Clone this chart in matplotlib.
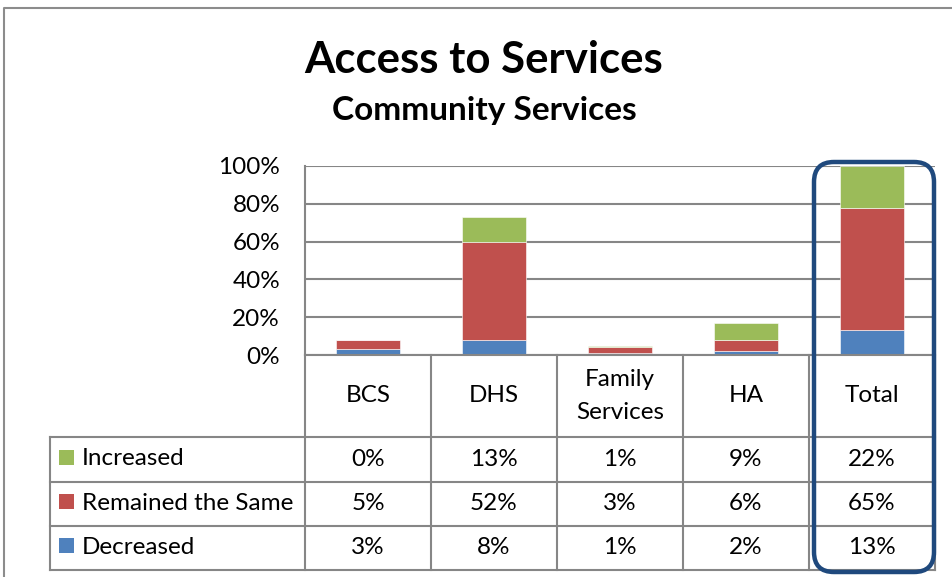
import matplotlib
matplotlib.use("Agg")
import matplotlib.pyplot as plt
from matplotlib.patches import FancyBboxPatch, Rectangle
from matplotlib.lines import Line2D
import numpy as np

plt.rcParams["font.family"] = ["Lato", "DejaVu Sans"]

categories = ["BCS", "DHS", "Family\nServices", "HA", "Total"]
series_names = ["Increased", "Remained the Same", "Decreased"]
decreased = [3, 8, 1, 2, 13]
remained = [5, 52, 3, 6, 65]
increased = [0, 13, 1, 9, 22]
yticks = [0, 20, 40, 60, 80, 100]

COL_INC = "#9BBB59"
COL_REM = "#C0504D"
COL_DEC = "#4F81BD"
GRID = "#868686"
EDGE_BLUE = "#1F497D"
FS = 17.5

W, H = 952, 577
fig = plt.figure(figsize=(W / 100, H / 100), dpi=100)


def fx(px):
    return px / W


def fy(py):
    return 1 - py / H


# plot area in pixel positions of the reference
left, right, top, base = 305, 935, 166, 355
ax = fig.add_axes([fx(left), fy(base), fx(right) - fx(left), (base - top) / H])
x = np.arange(len(categories))
dec = np.array(decreased) / 100
rem = np.array(remained) / 100
inc = np.array(increased) / 100
bw = 0.51
ax.bar(x, dec, bw, color=COL_DEC, edgecolor="white", linewidth=0.4, zorder=3)
ax.bar(x, rem, bw, bottom=dec, color=COL_REM, edgecolor="white", linewidth=0.4, zorder=3)
ax.bar(x, inc, bw, bottom=dec + rem, color=COL_INC, edgecolor="white", linewidth=0.4, zorder=3)

ax.set_xlim(-0.5, len(categories) - 0.5)
ax.set_ylim(0, 1)
ax.set_yticks([v / 100 for v in yticks])
ax.set_yticklabels([f"{v}%" for v in yticks], fontsize=FS)
ax.tick_params(axis="y", length=0, pad=18)
ax.set_xticks([])
ax.yaxis.grid(True, color=GRID, linewidth=1.5, zorder=0)
for s in ["top", "right", "bottom"]:
    ax.spines[s].set_visible(False)
ax.spines["left"].set_color(GRID)
ax.spines["left"].set_linewidth(1.5)

# titles
fig.text(fx(484), fy(60), "Access to Services", ha="center", va="center",
         fontsize=31.5, fontweight="bold")
fig.text(fx(484), fy(111), "Community Services", ha="center", va="center",
         fontsize=24, fontweight="bold")

# data table below the axis
cell_w = (right - left) / len(categories)
rows_y = [355, 437, 482, 526, 570]
tab_left = 50
lk = dict(color=GRID, linewidth=1.5)
fig.add_artist(Line2D([fx(left), fx(right)], [fy(355)] * 2, **lk))
for yy in rows_y[1:]:
    fig.add_artist(Line2D([fx(tab_left), fx(right)], [fy(yy)] * 2, **lk))
fig.add_artist(Line2D([fx(tab_left)] * 2, [fy(437), fy(570)], **lk))
for i in range(len(categories) + 1):
    xx = left + i * cell_w
    fig.add_artist(Line2D([fx(xx)] * 2, [fy(355), fy(570)], **lk))

for i, cat in enumerate(categories):
    cx = left + (i + 0.5) * cell_w
    fig.text(fx(cx), fy(396), cat, ha="center", va="center", fontsize=FS,
             linespacing=1.65)

table_rows = [(series_names[0], increased, COL_INC),
              (series_names[1], remained, COL_REM),
              (series_names[2], decreased, COL_DEC)]
for r, (name, vals, col) in enumerate(table_rows):
    cy = (rows_y[r + 1] + rows_y[r + 2]) / 2
    fig.add_artist(Rectangle((fx(59), fy(cy + 5)), 15 / W, 15 / H,
                             facecolor=col, edgecolor="none"))
    fig.text(fx(82), fy(cy - 1), name, ha="left", va="center", fontsize=FS)
    for i, v in enumerate(vals):
        cx = left + (i + 0.5) * cell_w
        fig.text(fx(cx), fy(cy), f"{v}%", ha="center", va="center", fontsize=FS)

# outer chart border
fig.add_artist(Line2D([fx(4), fx(4), fx(952)], [fy(577), fy(8), fy(8)],
                      color="#8C8C8C", linewidth=1.5))

# highlight around Total column
hl = FancyBboxPatch((814 / 100, (H - 572) / 100), 120 / 100, 410 / 100,
                    boxstyle="round,pad=0,rounding_size=0.2",
                    transform=fig.dpi_scale_trans, facecolor="none",
                    edgecolor=EDGE_BLUE, linewidth=3.2, zorder=10)
fig.add_artist(hl)

fig.savefig("out.png", dpi=100)
